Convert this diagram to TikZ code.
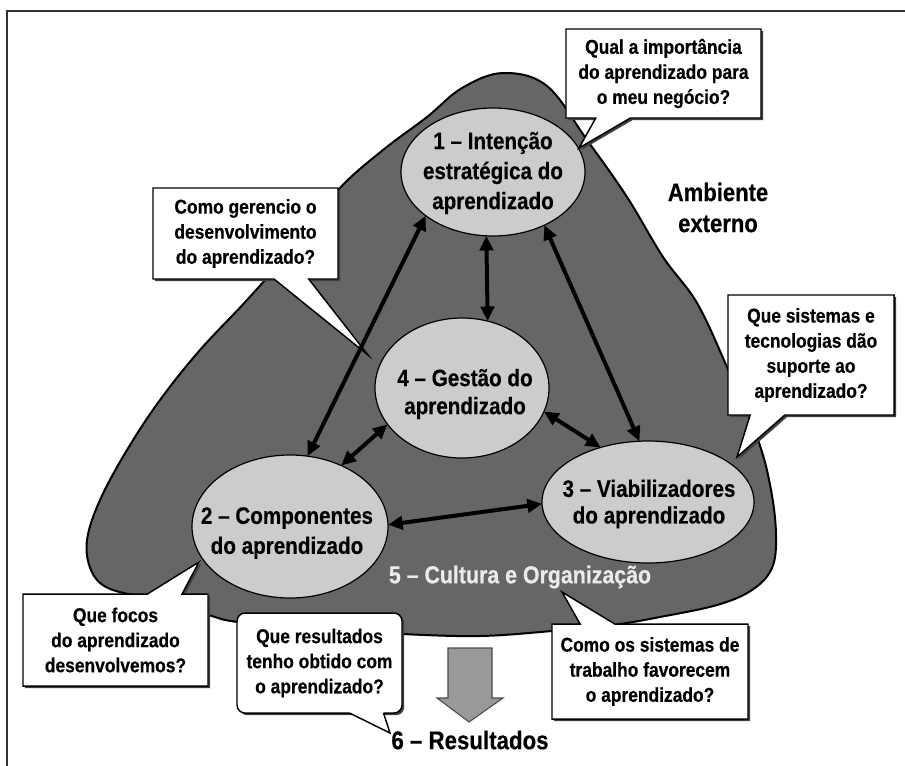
\documentclass[tikz,border=0pt]{standalone}
\usepackage{fontspec}
\newfontfamily\cond{Liberation Sans}[FakeStretch=0.87, BoldFeatures={FakeBold=0.4}]
\usetikzlibrary{shapes.geometric,shapes.callouts,arrows.meta,shadows,calc}
\definecolor{blobgray}{HTML}{666666}
\definecolor{ellgray}{HTML}{CCCCCC}
\definecolor{arrgray}{HTML}{999999}
\tikzset{
 boxfont/.style={font=\cond\bfseries\fontsize{15}{18.8}\selectfont},
 bsize/.style 2 args={minimum width=#1*0.75pt, minimum height=#2*0.75pt},
 erad/.style 2 args={minimum width=#1*1.5pt, minimum height=#2*1.5pt},
 myshadow/.style={drop shadow={shadow xshift=1.6pt, shadow yshift=-1.6pt, fill=black!75, opacity=1}},
 callbox/.style={rectangle callout, draw, line width=1.1pt, fill=white, align=center,
   inner sep=0pt, outer sep=0pt, boxfont, myshadow, callout pointer width=26pt},
 rbox/.style={rectangle, rounded corners=6pt, draw, line width=1.1pt, fill=white, align=center,
   inner sep=0pt, outer sep=0pt, boxfont, myshadow},
 ell/.style={ellipse, draw, line width=0.9pt, fill=ellgray, inner sep=0pt, outer sep=0pt},
 etext/.style={font=\cond\bfseries\fontsize{17.8}{22.5}\selectfont, align=center},
 biarrow/.style={line width=3pt, {Triangle[length=11pt,width=10pt]}-{Triangle[length=11pt,width=10pt]}},
}
\begin{document}
\begin{tikzpicture}[x=0.75pt,y=-0.75pt]
\useasboundingbox (0,0) rectangle (905,765);
\fill[white] (0,0) rectangle (905,765);
% frame
\draw[line width=1pt, black!80] (7,770) -- (7,11) -- (910,11);
% environment blob
\draw[fill=blobgray, line width=1.5pt] plot[smooth cycle, tension=0.6] coordinates {
 (503,73) (547,86) (587,140) (627,197) (663,257) (697,303) (727,367) (758,440)
 (771,490) (776,535) (772,568) (752,590) (717,605) (660,617) (613,625) (552,631)
 (480,636) (402,634) (320,629) (238,622) (208,615) (150,599) (108,588) (91,570)
 (87,540) (100,500) (127,450) (160,400) (200,350) (247,300) (300,240) (340,188)
 (383,150) (427,117) (462,88)};
\node[font=\cond\bfseries\fontsize{19}{23.25}\selectfont, align=center] (amb) at (718,207.5) {Ambiente\\externo};
% ellipses
\node[ell, erad={92}{64}] (e1) at (493,172) {};
\node[ell, erad={87}{70}] (e4) at (462,388) {};
\node[ell, erad={98}{71.5}] (e2) at (290,526.5) {};
\node[ell, erad={106}{61}] (e3) at (648,502) {};
\node[etext] (e1t) at (493,173) {1 – Intenção\\estratégica do\\aprendizado};
\node[etext, font=\cond\bfseries\fontsize{17.8}{21}\selectfont] (e4t) at (465,394) {4 – Gestão do\\aprendizado};
\node[etext] (e2t) at (287,533) {2 – Componentes\\do aprendizado};
\node[etext, font=\cond\bfseries\fontsize{17.8}{20}\selectfont] (e3t) at (649,504) {3 – Viabilizadores\\do aprendizado};
\node[font=\cond\bfseries\fontsize{18.4}{20}\selectfont, text=white!92!black] (cult) at (520,577) {5 – Cultura e Organização};
% callouts
\node[callbox, bsize={195}{89}, callout absolute pointer={(579,148)}] (qa) at (663.5,73.5)
 {Qual a importância\\do aprendizado para\\o meu negócio?};
\node[callbox, bsize={185}{91}, callout absolute pointer={(368,355)}] (cg) at (245.5,233.5)
 {Como gerencio o\\desenvolvimento\\do aprendizado?};
\node[callbox, bsize={166}{120}, callout absolute pointer={(737,457)}] (qs) at (811,355)
 {Que sistemas e\\tecnologias dão\\suporte ao\\aprendizado?};
\node[callbox, bsize={185}{92}, callout absolute pointer={(199,562)}] (qf) at (115.5,640)
 {Que focos\\do aprendizado\\desenvolvemos?};
\node[callbox, bsize={196}{95}, callout absolute pointer={(562,592)}] (cs) at (650,671.5)
 {Como os sistemas de\\trabalho favorecem\\o aprendizado?};
\node[rbox, bsize={165}{100}] (qr) at (319.5,663)
 {Que resultados\\tenho obtido com\\o aprendizado?};
\coordinate (qrtip) at (390,733);
\fill[white] ($(qr.south)+(30,-3)$) -- ($(qr.south)+(30,0)$) -- (qrtip) -- ($(qr.south)+(64,0)$) -- ($(qr.south)+(64,-3)$) -- cycle;
\draw[line width=1.1pt, line join=miter] ($(qr.south)+(30,0)$) -- (qrtip) -- ($(qr.south)+(64,0)$);
% results arrow
\draw[fill=arrgray, draw=black!70, line width=0.8pt, line join=miter]
 (448,648) -- (492,648) -- (492,698) -- (503,698) -- (469,722) -- (437,698) -- (448,698) -- cycle;
\node[font=\cond\bfseries\fontsize{19.2}{22}\selectfont] (res) at (470,740) {6 – Resultados};
% relation arrows
\draw[biarrow] (e1.213.3) -- (e2.76.7);
\draw[biarrow] (e1.264.6) -- (e4.69.8);
\draw[biarrow] (e1.314) -- (e3.98);
\draw[biarrow] (e4.344.7) -- (e3.131);
\draw[biarrow] (e4.206.3) -- (e2.50.9);
\draw[biarrow] (e2.1) -- (e3.181.6);
\end{tikzpicture}
\end{document}
